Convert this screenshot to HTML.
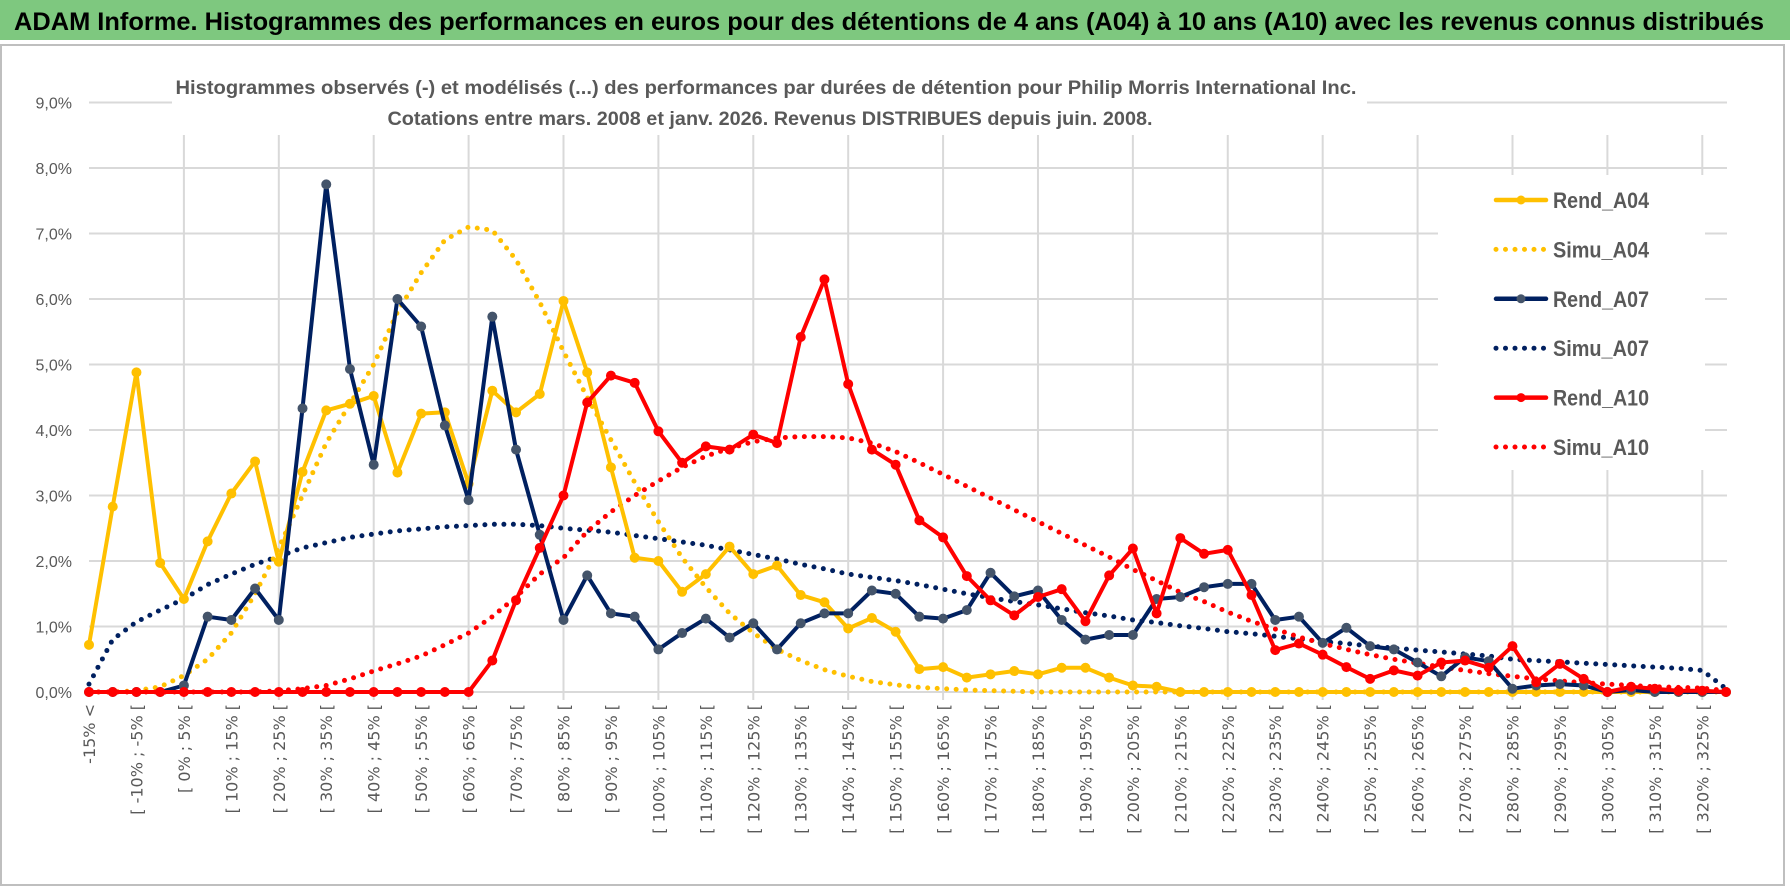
<!DOCTYPE html>
<html><head><meta charset="utf-8"><style>
html,body{margin:0;padding:0;background:#fff;}
svg{display:block;font-family:"Liberation Sans",sans-serif;}
</style></head><body>
<svg id="chart" width="1790" height="888" viewBox="0 0 1790 888" xmlns="http://www.w3.org/2000/svg">
<rect x="0" y="0" width="1790" height="888" fill="#fff"/>
<rect x="0" y="0" width="1790" height="40" fill="#7ec87f"/>
<text x="14" y="30" font-size="25" font-weight="bold" fill="#000" textLength="1750" lengthAdjust="spacingAndGlyphs">ADAM Informe. Histogrammes des performances en euros pour des détentions de 4 ans (A04) à 10 ans (A10) avec les revenus connus distribués</text>
<rect x="1" y="45" width="1783" height="840" fill="none" stroke="#bfbfbf" stroke-width="2"/>
<g id="grid"></g>
<rect x="172" y="66" width="1195" height="68" fill="#fff"/>
<text x="766" y="94" text-anchor="middle" font-size="19" font-weight="bold" fill="#595959" textLength="1181" lengthAdjust="spacingAndGlyphs">Histogrammes observés (-) et modélisés (...) des performances par durées de détention pour Philip Morris International Inc.</text>
<text x="770" y="125" text-anchor="middle" font-size="19" font-weight="bold" fill="#595959" textLength="765" lengthAdjust="spacingAndGlyphs">Cotations entre mars. 2008 et janv. 2026. Revenus DISTRIBUES depuis juin. 2008.</text>
<g id="axes"></g>
<g id="series"></g>
<g id="legend"></g>
</svg>
<script>
const categories = [];
for (let i = 0; i < 70; i++) categories.push(i === 0 ? "-15% <" : "[ " + (-20 + 5 * i) + "% ; " + (-15 + 5 * i) + "% [");
const yTicks = [0, 1, 2, 3, 4, 5, 6, 7, 8, 9];
const rendA04 = [0.72,2.83,4.88,1.97,1.42,2.3,3.03,3.52,1.99,3.36,4.3,4.4,4.52,3.35,4.25,4.27,3.18,4.6,4.27,4.55,5.97,4.88,3.43,2.05,2.0,1.53,1.8,2.22,1.8,1.93,1.48,1.37,0.97,1.13,0.92,0.35,0.38,0.22,0.27,0.32,0.27,0.37,0.37,0.22,0.1,0.08,0,0,0,0,0,0,0,0,0,0,0,0,0,0,0,0,0,0,0,0,0,0,0,0];
const simuA04 = [0,0,0.02,0.08,0.25,0.5,0.9,1.5,2.2,3.0,3.8,4.4,5.0,5.8,6.4,6.9,7.1,7.05,6.6,5.95,5.2,4.5,3.85,3.2,2.6,2.05,1.6,1.2,0.9,0.65,0.48,0.34,0.24,0.16,0.11,0.07,0.05,0.03,0.02,0.01,0,0,0,0,0,0,0,0,0,0,0,0,0,0,0,0,0,0,0,0,0,0,0,0,0,0,0,0,0,0];
const rendA07 = [0,0,0,0,0.1,1.15,1.1,1.58,1.1,4.33,7.75,4.93,3.47,6.0,5.58,4.07,2.93,5.73,3.7,2.4,1.1,1.78,1.2,1.15,0.65,0.9,1.12,0.83,1.05,0.65,1.05,1.2,1.2,1.55,1.5,1.15,1.12,1.25,1.82,1.46,1.55,1.1,0.8,0.87,0.87,1.42,1.45,1.6,1.65,1.65,1.1,1.15,0.75,0.98,0.7,0.65,0.45,0.24,0.53,0.47,0.05,0.1,0.12,0.1,0,0.03,0,0,0,0];
const simuA07 = [0.12,0.8,1.07,1.25,1.42,1.64,1.8,1.95,2.07,2.2,2.28,2.36,2.41,2.46,2.49,2.52,2.54,2.56,2.56,2.54,2.5,2.47,2.44,2.39,2.34,2.29,2.24,2.17,2.1,2.03,1.95,1.88,1.8,1.75,1.7,1.64,1.57,1.5,1.44,1.38,1.33,1.27,1.21,1.16,1.1,1.06,1.01,0.97,0.92,0.89,0.85,0.81,0.77,0.74,0.7,0.67,0.64,0.61,0.58,0.55,0.5,0.48,0.46,0.44,0.42,0.4,0.38,0.36,0.33,0.05];
const rendA10 = [0,0,0,0,0,0,0,0,0,0,0,0,0,0,0,0,0,0.48,1.4,2.2,3.0,4.42,4.83,4.72,3.98,3.5,3.75,3.7,3.93,3.8,5.42,6.3,4.7,3.7,3.47,2.62,2.36,1.77,1.4,1.17,1.45,1.57,1.08,1.78,2.19,1.2,2.35,2.11,2.17,1.48,0.64,0.74,0.57,0.38,0.2,0.33,0.25,0.45,0.48,0.37,0.7,0.15,0.43,0.2,0,0.08,0.05,0.02,0.02,0];
const simuA10 = [0,0,0,0,0,0,0,0,0.02,0.05,0.1,0.2,0.32,0.43,0.55,0.72,0.9,1.15,1.45,1.8,2.05,2.45,2.75,3.0,3.22,3.43,3.6,3.72,3.82,3.88,3.9,3.9,3.88,3.8,3.67,3.5,3.32,3.14,2.96,2.78,2.6,2.42,2.24,2.06,1.87,1.7,1.52,1.38,1.22,1.08,0.96,0.84,0.74,0.65,0.57,0.5,0.44,0.38,0.33,0.28,0.24,0.2,0.17,0.14,0.12,0.1,0.08,0.07,0.06,0.02];
const seriesNames = ["Rend_A04","Simu_A04","Rend_A07","Simu_A07","Rend_A10","Simu_A10"];

const NS = "http://www.w3.org/2000/svg";
const X0 = 89, X1 = 1726, Y0 = 692, YPER = 65.5;
const xPos = i => X0 + (X1 - X0) * i / (categories.length - 1);
const yPos = v => Y0 - v * YPER;
function mk(tag, attrs, parent) {
  const e = document.createElementNS(NS, tag);
  for (const k in attrs) e.setAttribute(k, attrs[k]);
  parent.appendChild(e);
  return e;
}
const grid = document.getElementById("grid");
const axes = document.getElementById("axes");
const ser = document.getElementById("series");
const leg = document.getElementById("legend");

yTicks.forEach(t => {
  const l = mk("line", {x1: X0, x2: 1727, y1: yPos(t), y2: yPos(t), stroke: "#d9d9d9", "stroke-width": 2}, grid);
  
  
  const tx = mk("text", {x: 72, y: yPos(t) + 6, "text-anchor": "end", "font-size": 16, fill: "#595959"}, axes);
  
  
  tx.textContent = t.toFixed(1).replace(".", ",") + "%";
});
for (let i = 4; i < categories.length; i += 4) {
  const l = mk("line", {x1: xPos(i), x2: xPos(i), y1: 135, y2: Y0 + 8, stroke: "#d9d9d9", "stroke-width": 2}, grid);
  
  
}
categories.forEach((c, i) => {
  if (i % 2 !== 0) return;
  const tx = mk("text", {x: 0, y: 0, "text-anchor": "end", "font-size": 16, fill: "#595959", "font-family": "DejaVu Sans, sans-serif", transform: "translate(" + (xPos(i) + 6) + "," + (Y0 + 12) + ") rotate(-90)"}, axes);
  
  
  tx.textContent = c;
});

function drawLine(vals, color, dotted, marker, name) {
  const pts = vals.map((v, i) => xPos(i).toFixed(1) + "," + yPos(v).toFixed(1)).join(" ");
  const attrs = {points: pts, fill: "none", stroke: color, "stroke-linejoin": "round", "stroke-linecap": "round"};
  if (dotted) { attrs["stroke-width"] = 5; attrs["stroke-dasharray"] = "0 9.5"; }
  else attrs["stroke-width"] = 4;
  const pl = mk("polyline", attrs, ser);
  
  
  if (marker) vals.forEach((v, i) => {
    const c = mk("circle", {cx: xPos(i), cy: yPos(v), r: 4.5, fill: marker, stroke: marker}, ser);
    
    
  });
}
drawLine(simuA07, "#002060", true, null, "simu-a07");
drawLine(simuA04, "#FFC000", true, null, "simu-a04");
drawLine(simuA10, "#FF0000", true, null, "simu-a10");
drawLine(rendA04, "#FFC000", false, "#FFC000", "rend-a04");
drawLine(rendA07, "#002060", false, "#44546A", "rend-a07");
drawLine(rendA10, "#FF0000", false, "#FF0000", "rend-a10");

const lb = mk("rect", {x: 1438, y: 175, width: 267, height: 295, fill: "#fff"}, leg);


const legColors = ["#FFC000","#FFC000","#002060","#002060","#FF0000","#FF0000"];
const legMarkers = ["#FFC000",null,"#44546A",null,"#FF0000",null];
seriesNames.forEach((n, k) => {
  const y = 200 + k * 49.4;
  const dotted = k % 2 === 1;
  const l = mk("line", {x1: 1496, x2: 1546, y1: y, y2: y, stroke: legColors[k], "stroke-width": dotted ? 5 : 4.5, "stroke-linecap": "round"}, leg);
  if (dotted) l.setAttribute("stroke-dasharray", "0 9.5");
  
  
  if (legMarkers[k]) {
    const c = mk("circle", {cx: 1521, cy: y, r: 4.5, fill: legMarkers[k]}, leg);
    
    
  }
  const t = mk("text", {x: 1553, y: y + 8, "font-size": 22, "font-weight": "bold", fill: "#595959", textLength: 96, lengthAdjust: "spacingAndGlyphs"}, leg);
  
  
  t.textContent = n;
});
</script>
</body></html>
